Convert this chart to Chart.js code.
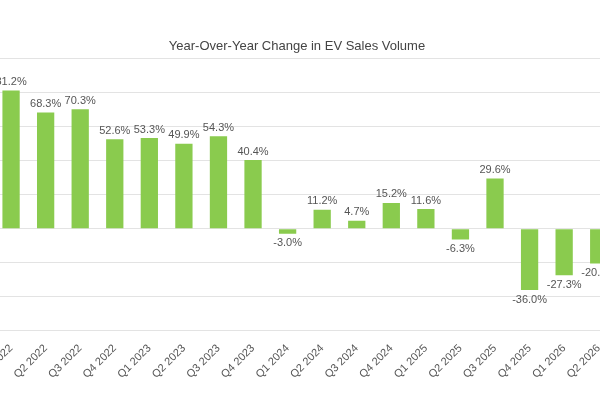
<!DOCTYPE html>
<html>
<head>
<meta charset="utf-8">
<script src="https://cdn.jsdelivr.net/npm/chart.js@4.4.0/dist/chart.umd.min.js"></script>
<style>
  html, body { margin: 0; padding: 0; overflow: hidden; background: #fff; }
  #wrap { position: absolute; left: -22px; top: 0; width: 638px; height: 400px; }
</style>
</head>
<body>
<div id="wrap"><canvas id="chart"></canvas></div>
<script>
const quarters = ['Q1 2022', 'Q2 2022', 'Q3 2022', 'Q4 2022', 'Q1 2023', 'Q2 2023', 'Q3 2023', 'Q4 2023',
    'Q1 2024', 'Q2 2024', 'Q3 2024', 'Q4 2024', 'Q1 2025', 'Q2 2025', 'Q3 2025', 'Q4 2025', 'Q1 2026', 'Q2 2026'];
const yoyChange = [81.2, 68.3, 70.3, 52.6, 53.3, 49.9, 54.3, 40.4, -3.0, 11.2, 4.7, 15.2, 11.6, -6.3, 29.6, -36.0, -27.3, -20.5];

// Value labels above/below each bar
const valueLabels = {
    id: 'valueLabels',
    afterDatasetsDraw(chart) {
        const ctx = chart.ctx;
        const meta = chart.getDatasetMeta(0);
        ctx.save();
        ctx.font = '11px "Liberation Sans", Arial, sans-serif';
        ctx.fillStyle = '#555';
        ctx.textAlign = 'center';
        meta.data.forEach(function(bar, i) {
            const v = yoyChange[i];
            if (v >= 0) {
                ctx.textBaseline = 'bottom';
                ctx.fillText(v.toFixed(1) + '%', bar.x, bar.y - 3);
            } else {
                ctx.textBaseline = 'top';
                ctx.fillText(v.toFixed(1) + '%', bar.x, bar.y + 4);
            }
        });
        ctx.restore();
    }
};

new Chart(document.getElementById('chart'), {
    type: 'bar',
    data: {
        labels: quarters,
        datasets: [{
            data: yoyChange,
            backgroundColor: '#8acb4e',
            categoryPercentage: 1,
            barPercentage: 0.5
        }]
    },
    options: {
        responsive: true,
        maintainAspectRatio: false,
        animation: false,
        layout: { padding: { top: 39, bottom: 16 } },
        plugins: {
            legend: { display: false },
            tooltip: { enabled: false },
            title: {
                display: true,
                text: 'Year-Over-Year Change in EV Sales Volume',
                color: '#444',
                font: { family: '"Liberation Sans", Arial, sans-serif', size: 13, weight: 'normal' },
                padding: { top: 0, bottom: 4 }
            }
        },
        scales: {
            x: {
                grid: { display: false },
                border: { display: false },
                ticks: {
                    color: '#555',
                    font: { family: '"Liberation Sans", Arial, sans-serif', size: 11 },
                    maxRotation: 45, minRotation: 45
                }
            },
            y: {
                min: -60, max: 100,
                ticks: { stepSize: 20, display: false },
                grid: { color: '#e3e3e3' },
                border: { display: false }
            }
        }
    },
    plugins: [valueLabels]
});
</script>
</body>
</html>
